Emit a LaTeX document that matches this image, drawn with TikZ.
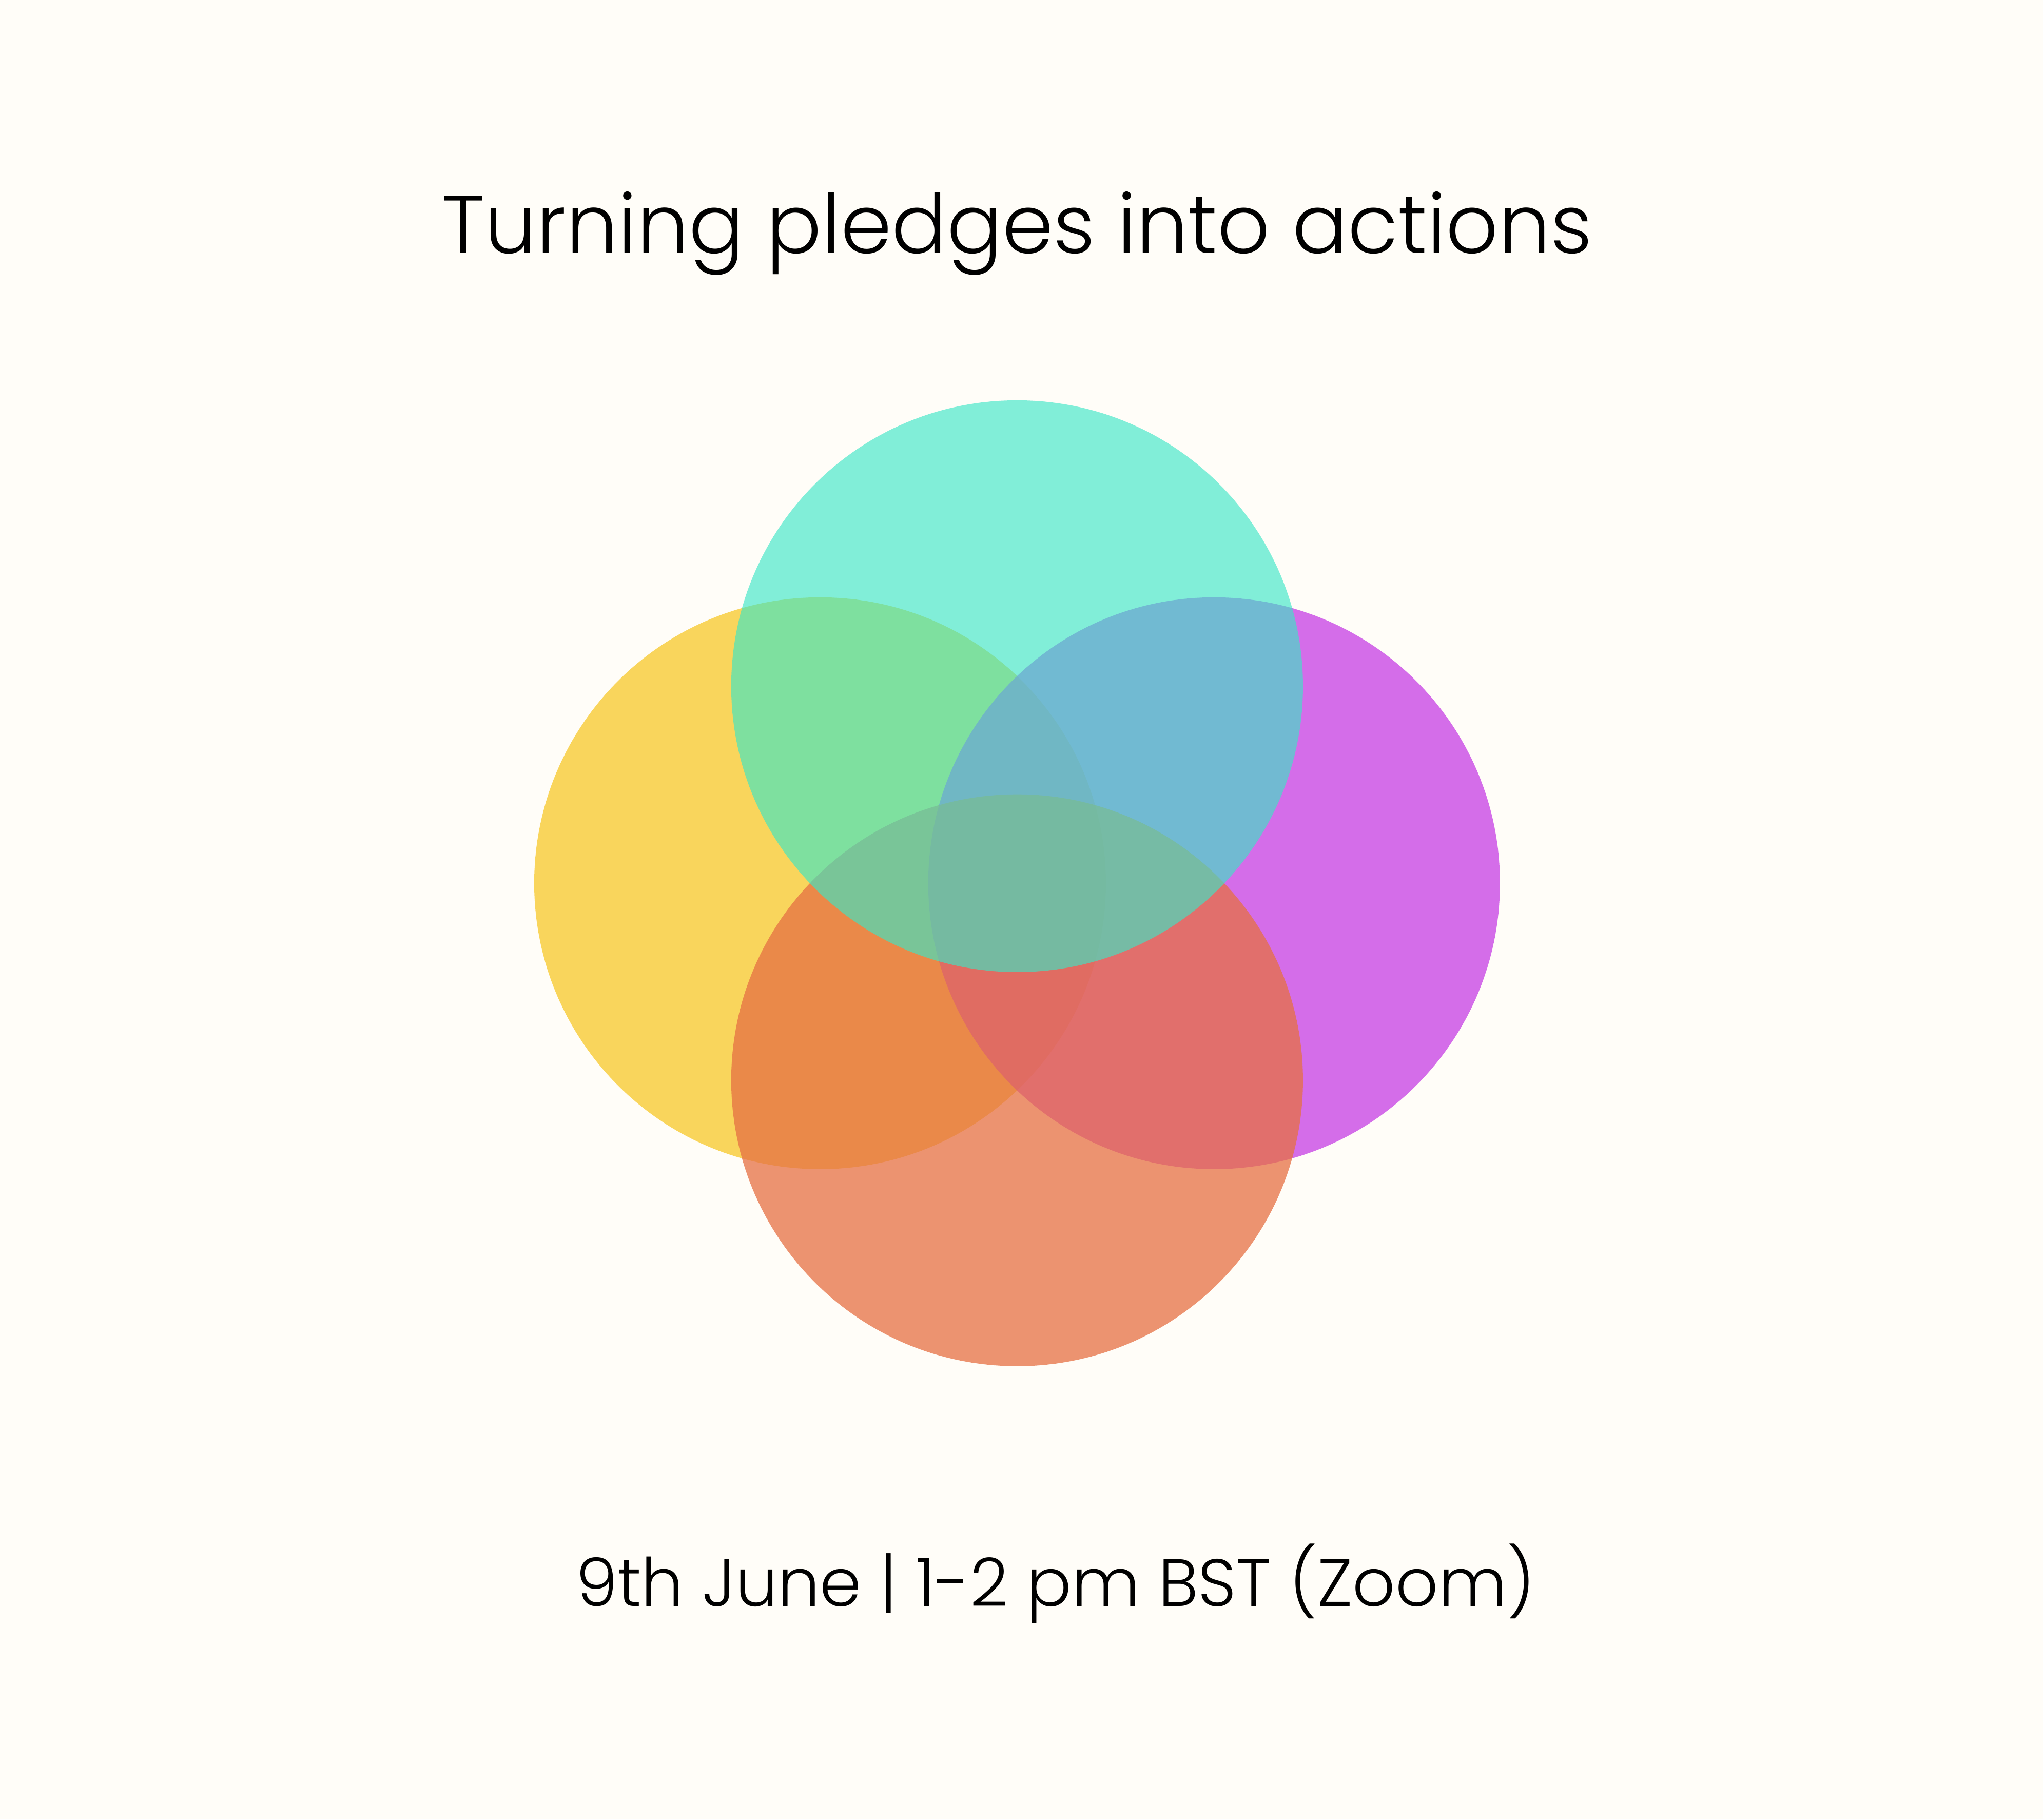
\documentclass[tikz,border=0pt]{standalone}
\usepackage{fontspec}
\IfFontExistsTF{Poppins Light}{\setmainfont{Poppins Light}}{\setmainfont{Poppins}}
\usepackage{tikz}
\definecolor{paper}{HTML}{FFFDF8}
\definecolor{amber}{HTML}{F8C828}
\definecolor{orchid}{HTML}{C63EE5}
\definecolor{coral}{HTML}{E67043}
\definecolor{mint}{HTML}{3AE7C6}
\definecolor{ink}{HTML}{000000}

\begin{document}
\begin{tikzpicture}[
 heading/.style={inner sep=0pt,anchor=base,text=ink,font=\fontsize{17.9pt}{21pt}\selectfont},
 subline/.style={inner sep=0pt,anchor=base,text=ink,font=\fontsize{14.6pt}{18pt}\selectfont}]
 % page
 \fill[paper] (0,0) rectangle (15.68,13.963);
 % four overlapping circles, bottom to top
 \foreach \col/\x/\y/\op in {amber/6.294/7.185/0.75, orchid/9.318/7.185/0.75,
   coral/7.806/5.673/0.75, mint/7.806/8.697/0.64}
   \fill[\col,fill opacity=\op] (\x,\y) circle (2.194);
 \node[heading] (title) at (7.807,12.021) {Turning pledges into actions};
 \node[subline] (date) at (8.10,1.635) {9th June | 1-2 pm BST (Zoom)};
\end{tikzpicture}
\end{document}
